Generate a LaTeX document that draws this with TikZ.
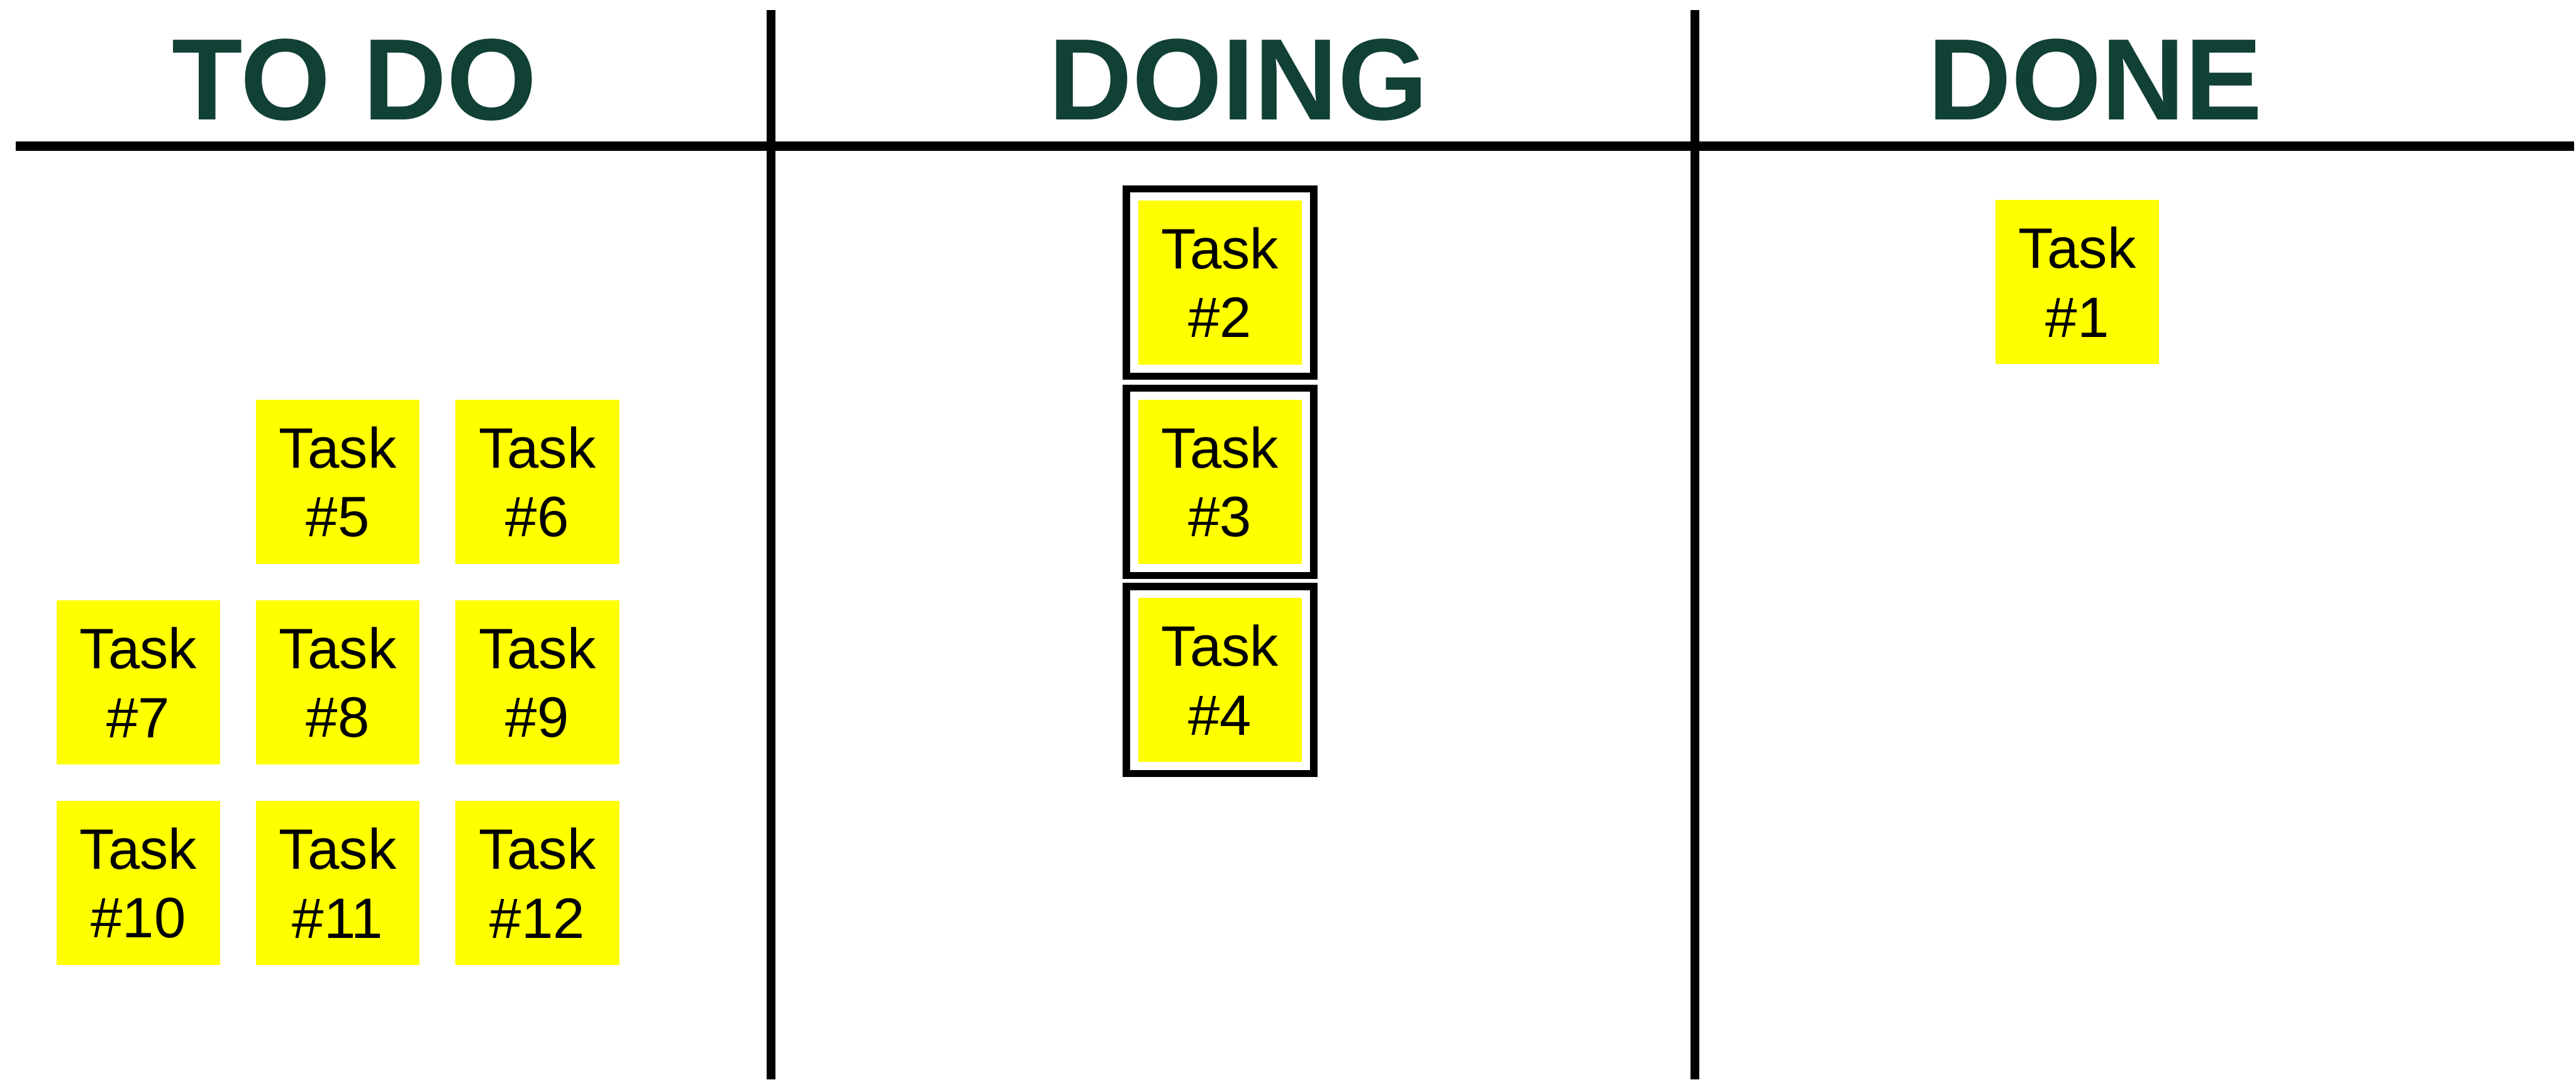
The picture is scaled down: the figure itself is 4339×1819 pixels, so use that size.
\documentclass[tikz,border=0pt]{standalone}
\usepackage{fontspec}
\setmainfont{Liberation Sans}
\usetikzlibrary{fit}
\definecolor{boardgreen}{RGB}{17,64,53}
\definecolor{notecolor}{RGB}{255,255,0}

\begin{document}
\begin{tikzpicture}[x=0.01cm, y=-0.01cm,
  task/.style={fill=notecolor, minimum width=2.76cm, minimum height=2.76cm,
    inner sep=0pt, align=center, font=\fontsize{27.3pt}{33pt}\selectfont},
  wipframe/.style={draw, line width=0.12cm, inner sep=0.19cm},
  heading/.style={anchor=base, text=boardgreen,
    font=\fontsize{55.5pt}{60pt}\selectfont\bfseries},
  rule/.style={line width=0.16cm}]
  % one unit = one pixel of the 4339 x 1819 board, y downward
  \useasboundingbox (0,0) rectangle (4339,1819);
  % column rules and header rule
  \draw[rule] (27,246) -- (4336,246);
  \draw[line width=0.15cm] (1299,17) -- (1299,1819);
  \draw[line width=0.15cm] (2855,17) -- (2855,1819);
  % headings
  \node[heading] (hTodo)  at (597,202)  {TO DO};
  \node[heading] (hDoing) at (2086,202) {DOING};
  \node[heading] (hDone)  at (3529,202) {DONE};
  % row pitch 337: 475, 812, 1149, 1486
  % To do: columns 233, 569, 905
  \node[task] (t5)  at (569,812)  {Task\\\#5};
  \node[task] (t6)  at (905,812)  {Task\\\#6};
  \node[task] (t7)  at (233,1150) {Task\\\#7};
  \node[task] (t8)  at (569,1150) {Task\\\#8};
  \node[task] (t9)  at (905,1150) {Task\\\#9};
  \node[task] (t10) at (233,1488) {Task\\\#10};
  \node[task] (t11) at (569,1488) {Task\\\#11};
  \node[task] (t12) at (905,1488) {Task\\\#12};
  % Doing: framed notes
  \node[task] (t2) at (2055,476)  {Task\\\#2};
  \node[task] (t3) at (2055,812)  {Task\\\#3};
  \node[task] (t4) at (2055,1146) {Task\\\#4};
  \node[wipframe, fit=(t2)] (f2) {};
  \node[wipframe, fit=(t3)] (f3) {};
  \node[wipframe, fit=(t4)] (f4) {};
  % Done
  \node[task] (t1) at (3499,475) {Task\\\#1};
\end{tikzpicture}
\end{document}
